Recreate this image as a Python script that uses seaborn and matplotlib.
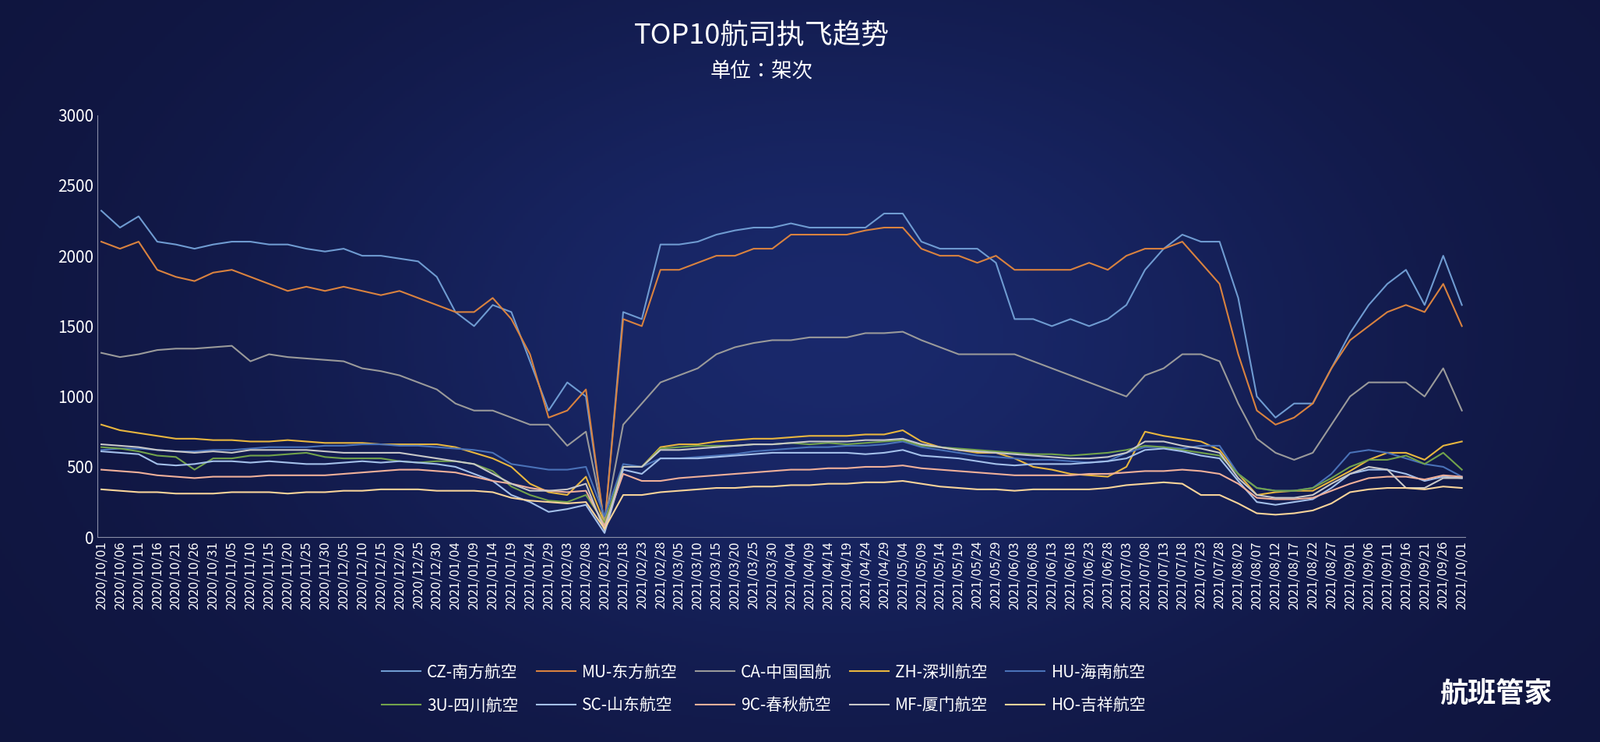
import numpy as np
import pandas as pd
import matplotlib
matplotlib.use("Agg")
import matplotlib.pyplot as plt
from matplotlib import font_manager
import seaborn as sns

cjk = sorted(set(f.name for f in font_manager.fontManager.ttflist if "CJK" in f.name))
plt.rcParams["font.family"] = ["Noto Sans CJK SC", "Noto Sans CJK JP"] + cjk + ["DejaVu Sans"]

# ------------------------------
# Data (sampled every 5 days, read off the chart)
# ------------------------------
dates = pd.date_range("2020-10-01", "2021-10-01", freq="5D")

airlines = ["CZ-南方航空", "MU-东方航空", "CA-中国国航", "ZH-深圳航空", "HU-海南航空",
            "3U-四川航空", "SC-山东航空", "9C-春秋航空", "MF-厦门航空", "HO-吉祥航空"]

cz = [2320, 2200, 2280, 2100, 2080, 2050, 2080, 2100, 2100, 2080,
      2080, 2050, 2030, 2050, 2000, 2000, 1980, 1960, 1850, 1600,
      1500, 1650, 1600, 1250, 900, 1100, 1000, 80, 1600, 1550,
      2080, 2080, 2100, 2150, 2180, 2200, 2200, 2230, 2200, 2200,
      2200, 2200, 2300, 2300, 2100, 2050, 2050, 2050, 1950, 1550,
      1550, 1500, 1550, 1500, 1550, 1650, 1900, 2050, 2150, 2100,
      2100, 1700, 1000, 850, 950, 950, 1200, 1450, 1650, 1800,
      1900, 1650, 2000, 1650]
mu = [2100, 2050, 2100, 1900, 1850, 1820, 1880, 1900, 1850, 1800,
      1750, 1780, 1750, 1780, 1750, 1720, 1750, 1700, 1650, 1600,
      1600, 1700, 1550, 1300, 850, 900, 1050, 80, 1550, 1500,
      1900, 1900, 1950, 2000, 2000, 2050, 2050, 2150, 2150, 2150,
      2150, 2180, 2200, 2200, 2050, 2000, 2000, 1950, 2000, 1900,
      1900, 1900, 1900, 1950, 1900, 2000, 2050, 2050, 2100, 1950,
      1800, 1300, 900, 800, 850, 950, 1200, 1400, 1500, 1600,
      1650, 1600, 1800, 1500]
ca = [1310, 1280, 1300, 1330, 1340, 1340, 1350, 1360, 1250, 1300,
      1280, 1270, 1260, 1250, 1200, 1180, 1150, 1100, 1050, 950,
      900, 900, 850, 800, 800, 650, 750, 100, 800, 950,
      1100, 1150, 1200, 1300, 1350, 1380, 1400, 1400, 1420, 1420,
      1420, 1450, 1450, 1460, 1400, 1350, 1300, 1300, 1300, 1300,
      1250, 1200, 1150, 1100, 1050, 1000, 1150, 1200, 1300, 1300,
      1250, 950, 700, 600, 550, 600, 800, 1000, 1100, 1100,
      1100, 1000, 1200, 900]
zh = [800, 760, 740, 720, 700, 700, 690, 690, 680, 680,
      690, 680, 670, 670, 670, 660, 660, 660, 660, 640,
      600, 560, 500, 380, 320, 300, 430, 100, 500, 500,
      640, 660, 660, 680, 690, 700, 700, 710, 720, 720,
      720, 730, 730, 760, 680, 640, 620, 600, 600, 560,
      500, 480, 450, 440, 430, 500, 750, 720, 700, 680,
      620, 450, 300, 320, 330, 330, 400, 470, 550, 600,
      600, 550, 650, 680]
hu = [620, 630, 630, 620, 610, 610, 620, 620, 630, 640,
      640, 640, 650, 650, 660, 660, 650, 650, 640, 630,
      620, 600, 520, 500, 480, 480, 500, 150, 520, 500,
      560, 560, 570, 580, 590, 610, 620, 630, 640, 640,
      650, 650, 660, 680, 640, 620, 600, 580, 570, 560,
      550, 550, 540, 530, 540, 600, 640, 640, 630, 650,
      650, 450, 350, 330, 330, 350, 450, 600, 620, 600,
      560, 520, 500, 430]
su = [640, 630, 610, 580, 570, 480, 560, 560, 580, 580,
      590, 600, 570, 560, 560, 560, 540, 530, 540, 540,
      520, 470, 360, 300, 260, 250, 300, 100, 500, 500,
      630, 640, 650, 650, 650, 660, 660, 670, 660, 670,
      660, 670, 680, 690, 650, 640, 630, 620, 610, 600,
      590, 590, 580, 590, 600, 620, 650, 640, 620, 600,
      580, 450, 350, 330, 330, 350, 420, 500, 550, 550,
      580, 520, 600, 480]
sc = [610, 600, 590, 520, 510, 520, 540, 540, 530, 540,
      530, 520, 520, 530, 540, 530, 540, 530, 520, 500,
      450, 400, 300, 250, 180, 200, 230, 30, 480, 450,
      560, 560, 560, 570, 580, 590, 600, 600, 600, 600,
      600, 590, 600, 620, 580, 570, 560, 540, 520, 510,
      520, 520, 520, 530, 540, 560, 620, 630, 610, 580,
      560, 400, 250, 230, 250, 270, 350, 450, 480, 480,
      450, 400, 430, 420]
c9 = [480, 470, 460, 440, 430, 420, 430, 430, 430, 440,
      440, 440, 440, 450, 460, 470, 480, 480, 470, 460,
      430, 400, 380, 350, 330, 320, 330, 80, 450, 400,
      400, 420, 430, 440, 450, 460, 470, 480, 480, 490,
      490, 500, 500, 510, 490, 480, 470, 460, 450, 440,
      440, 440, 440, 450, 450, 460, 470, 470, 480, 470,
      450, 380, 280, 270, 270, 280, 330, 380, 420, 430,
      430, 410, 440, 430]
mf = [660, 650, 640, 620, 610, 600, 610, 600, 620, 620,
      620, 620, 610, 600, 600, 600, 600, 580, 560, 540,
      520, 450, 380, 330, 330, 340, 380, 50, 500, 500,
      620, 620, 630, 640, 650, 660, 660, 670, 680, 680,
      680, 690, 690, 700, 660, 640, 620, 610, 600, 590,
      580, 570, 560, 560, 570, 600, 680, 680, 650, 630,
      600, 420, 300, 280, 280, 300, 380, 450, 500, 480,
      350, 350, 420, 420]
ho = [340, 330, 320, 320, 310, 310, 310, 320, 320, 320,
      310, 320, 320, 330, 330, 340, 340, 340, 330, 330,
      330, 320, 280, 260, 250, 240, 250, 60, 300, 300,
      320, 330, 340, 350, 350, 360, 360, 370, 370, 380,
      380, 390, 390, 400, 380, 360, 350, 340, 340, 330,
      340, 340, 340, 340, 350, 370, 380, 390, 380, 300,
      300, 240, 170, 160, 170, 190, 240, 320, 340, 350,
      350, 340, 360, 350]

series = [cz, mu, ca, zh, hu, su, sc, c9, mf, ho]
colors = ["#6f9bd1", "#d9823f", "#9a9a9a", "#e8b63f", "#4a72b8",
          "#72a24c", "#a4c0ea", "#f0b09a", "#c8c8c8", "#f8d49a"]

df = pd.concat([pd.DataFrame({"date": dates, "flights": v, "airline": a})
                for a, v in zip(airlines, series)], ignore_index=True)

# ------------------------------
# Figure with dark gradient background
# ------------------------------
fig = plt.figure(figsize=(20.54, 9.52), dpi=100)
bg = fig.add_axes([0, 0, 1, 1], zorder=-10)
yy, xx = np.mgrid[0:1:300j, 0:1:600j]
glow = np.exp(-(((xx - 0.52) / 0.35) ** 2 + ((yy - 0.45) / 0.5) ** 2))
base = np.array([0.06, 0.08, 0.24])
hi = np.array([0.10, 0.16, 0.42])
img = base + (hi - base) * glow[..., None]
bg.imshow(img, aspect="auto", extent=[0, 1, 0, 1])
bg.axis("off")

ax = fig.add_axes([0.061, 0.276, 0.855, 0.569])
ax.set_facecolor("none")
sns.lineplot(data=df, x="date", y="flights", hue="airline", hue_order=airlines,
             palette=colors, linewidth=1.5, ax=ax, legend=True)

ax.set_ylim(0, 3000)
ax.set_yticks(range(0, 3001, 500))
ax.set_xlim(dates[0] - pd.Timedelta(days=1), dates[-1] + pd.Timedelta(days=1))
ax.set_xticks(dates)
ax.set_xticklabels([d.strftime("%Y/%m/%d") for d in dates], rotation=90)
ax.tick_params(axis="x", colors="white", labelsize=12, length=0)
ax.tick_params(axis="y", colors="white", labelsize=15, length=0)
ax.set_xlabel("")
ax.set_ylabel("")
for s in ["top", "right"]:
    ax.spines[s].set_visible(False)
for s in ["left", "bottom"]:
    ax.spines[s].set_color("#8a8fa8")

handles, labels = ax.get_legend_handles_labels()
order = [0, 5, 1, 6, 2, 7, 3, 8, 4, 9]
leg = ax.legend([handles[i] for i in order], [labels[i] for i in order],
                ncol=5, loc="upper center", bbox_to_anchor=(0.487, -0.265),
                frameon=False, fontsize=15, labelcolor="white",
                handlelength=2.4, columnspacing=1.1, handletextpad=0.4,
                labelspacing=1.0)

fig.text(0.476, 0.952, "TOP10航司执飞趋势", color="white", fontsize=26,
         ha="center", va="center")
fig.text(0.476, 0.903, "单位：架次", color="white", fontsize=19,
         ha="center", va="center")
fig.text(0.935, 0.065, "航班管家", color="white", fontsize=26,
         fontweight="bold", ha="center", va="center")

fig.savefig("out.png", dpi=100)
